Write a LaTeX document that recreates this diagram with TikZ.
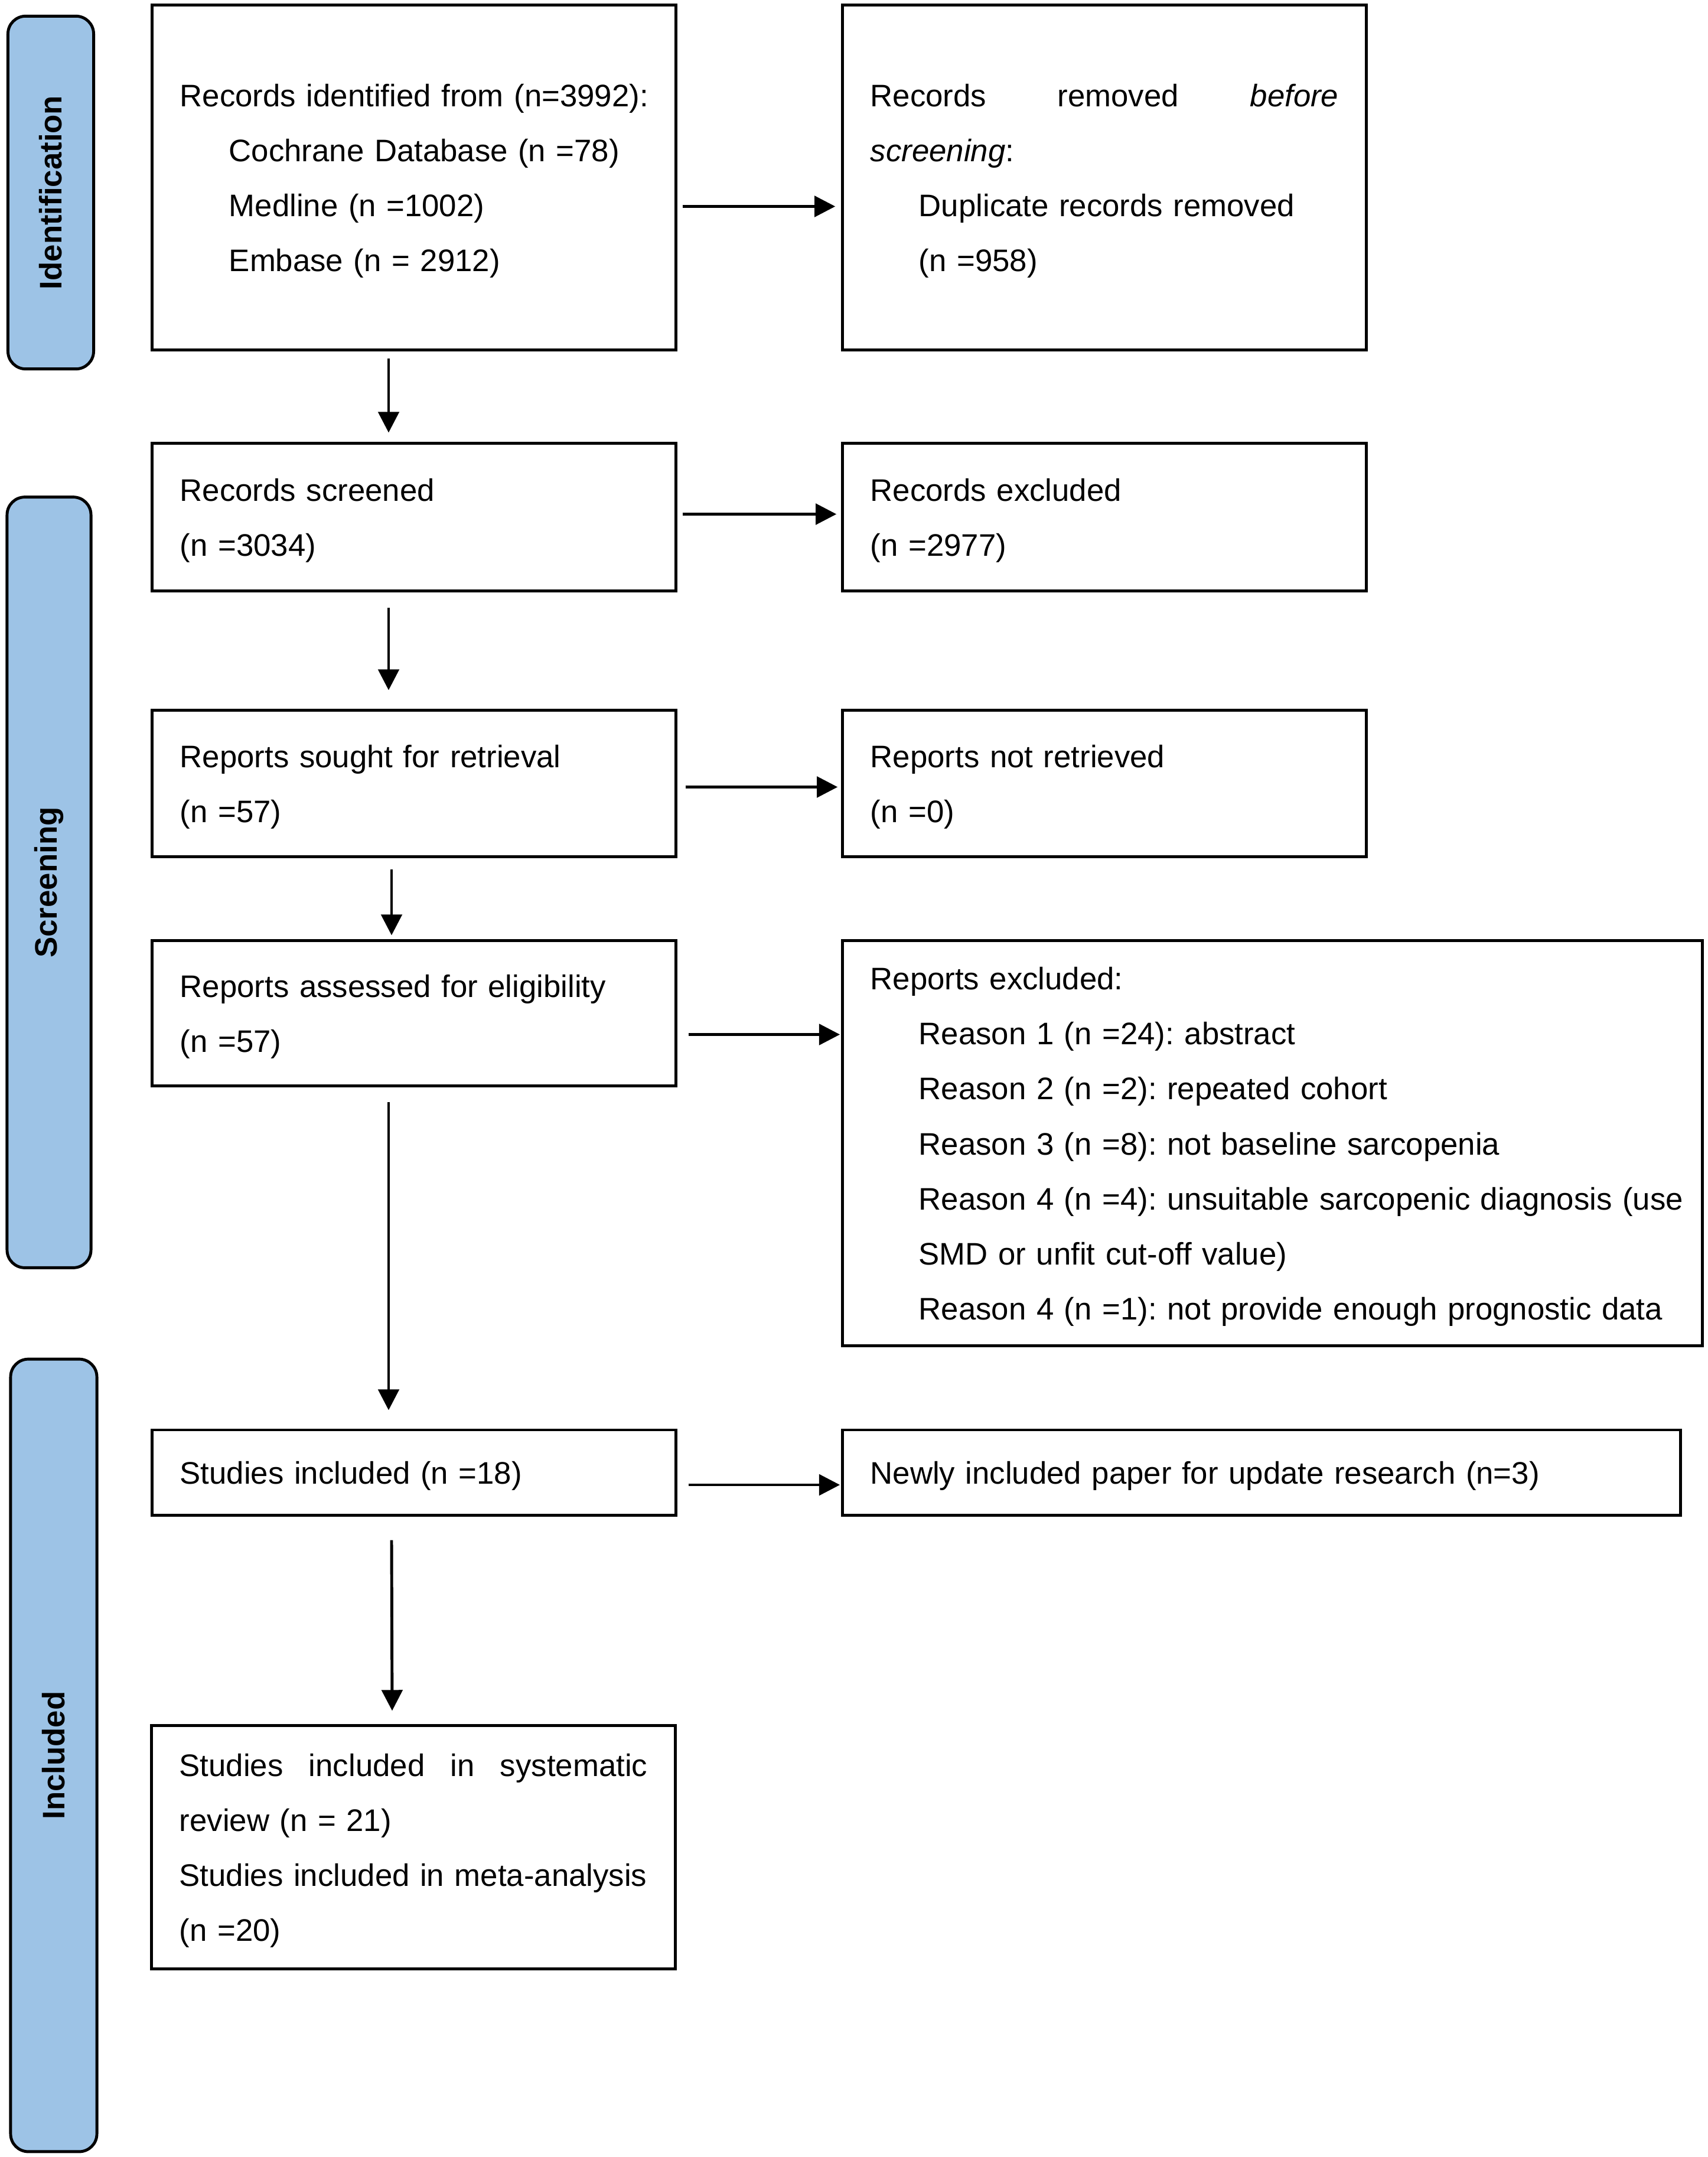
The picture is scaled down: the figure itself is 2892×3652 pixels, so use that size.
\documentclass[tikz,border=0pt]{standalone}
\usepackage{fontspec}
\setmainfont{Liberation Sans}
\usetikzlibrary{arrows.meta,calc}
\definecolor{pillblue}{RGB}{157,195,230}
\begin{document}
\frenchspacing
\begin{tikzpicture}[x=0.01cm,y=-0.01cm,
  box/.style={draw, line width=1.4pt, inner xsep=0.47cm, inner ysep=0pt, align=left,
    font=\fontsize{15}{26.5}\selectfont, execute at begin node={\rule{0pt}{14.2pt}}},
  pill/.style={draw, line width=1.4pt, fill=pillblue, rounded corners=0.3cm, inner sep=0pt,
    rotate=90, font=\fontsize{15}{18}\bfseries\selectfont},
  arr/.style={-{Triangle[length=10pt,width=10pt]}, line width=1.4pt}]
\useasboundingbox (0,0) rectangle (2892,3652);
\fill[white] (0,0) rectangle (2892,3652);

% phase pills
\node[pill, minimum width=5.97cm, minimum height=1.45cm] (p1) at (86,326) {Identification};
\node[pill, minimum width=13.04cm, minimum height=1.42cm] (p2) at (83,1494) {Screening};
\node[pill, minimum width=13.41cm, minimum height=1.46cm] (p3) at (91,2972) {Included};

% boxes
\node[box, text width=7.92cm, minimum height=5.83cm] (b1) at (701,300.5) {%
\mbox{Records identified from (n=3992):}\\
\hspace*{0.83cm}Cochrane Database (n =78)\\
\hspace*{0.83cm}Medline (n =1002)\\
\hspace*{0.83cm}Embase (n = 2912)};

\node[box, text width=7.92cm, minimum height=5.83cm] (b2) at (1870,300.5) {%
\hbox to 7.92cm{Records\hfill removed\hfill\textit{before}}\\
\textit{screening}:\\
\hspace*{0.82cm}Duplicate records removed\\
\hspace*{0.82cm}(n =958)};

\node[box, text width=7.92cm, minimum height=2.49cm] (b3) at (701,875.5) {%
Records screened\\
(n =3034)};

\node[box, text width=7.92cm, minimum height=2.49cm] (b4) at (1870,875.5) {%
Records excluded\\
(n =2977)};

\node[box, text width=7.92cm, minimum height=2.47cm] (b5) at (701,1326.5) {%
Reports sought for retrieval\\
(n =57)};

\node[box, text width=7.92cm, minimum height=2.47cm] (b6) at (1870,1326.5) {%
Reports not retrieved\\
(n =0)};

\node[box, text width=7.92cm, minimum height=2.45cm] (b7) at (701,1715.5) {%
Reports assessed for eligibility\\
(n =57)};

\node[box, text width=13.61cm, minimum height=6.85cm] (b8) at (2154.5,1935.5) {%
Reports excluded:\\
\hspace*{0.82cm}Reason 1 (n =24): abstract\\
\hspace*{0.82cm}Reason 2 (n =2): repeated cohort\\
\hspace*{0.82cm}Reason 3 (n =8): not baseline sarcopenia\\
\hspace*{0.82cm}\mbox{Reason 4 (n =4): unsuitable sarcopenic diagnosis (use}\\
\hspace*{0.82cm}SMD or unfit cut-off value)\\
\hspace*{0.82cm}Reason 4 (n =1): not provide enough prognostic data};

\node[box, text width=7.92cm, minimum height=1.44cm] (b9) at (701,2493) {%
Studies included (n =18)};

\node[box, text width=13.24cm, minimum height=1.44cm] (b10) at (2136,2493) {%
Newly included paper for update research (n=3)};

\node[box, text width=7.92cm, minimum height=4.11cm] (b11) at (700,3127.5) {%
\hbox to 7.92cm{Studies\hfill included\hfill in\hfill systematic}\\
review (n = 21)\\
Studies included in meta-analysis\\
(n =20)};

% horizontal arrows
\draw[arr] ($(b1.east)+(9,49)$) -- ($(b2.west)+(-10,49)$);
\draw[arr] ($(b3.east)+(9,-5)$) -- ($(b4.west)+(-8,-5)$);
\draw[arr] ($(b5.east)+(14,6)$) -- ($(b6.west)+(-6,6)$);
\draw[arr] ($(b7.east)+(19,36)$) -- ($(b8.west |- b7.east)+(-2,36)$);
\draw[arr] ($(b9.east)+(19,21)$) -- ($(b10.west)+(-2,21)$);

% vertical arrows
\draw[arr] ($(b1.south)+(-43,12)$) -- ($(b3.north)+(-43,-16)$);
\draw[arr] ($(b3.south)+(-43,26)$) -- ($(b5.north)+(-43,-32)$);
\draw[arr] ($(b5.south)+(-38,19)$) -- ($(b7.north)+(-38,-7)$);
\draw[arr] ($(b7.south)+(-43,25)$) -- ($(b9.north)+(-43,-31)$);
\draw[arr] ($(b9.south)+(-38,40)$) -- ($(b11.north)+(-36,-23)$);
\end{tikzpicture}
\end{document}
